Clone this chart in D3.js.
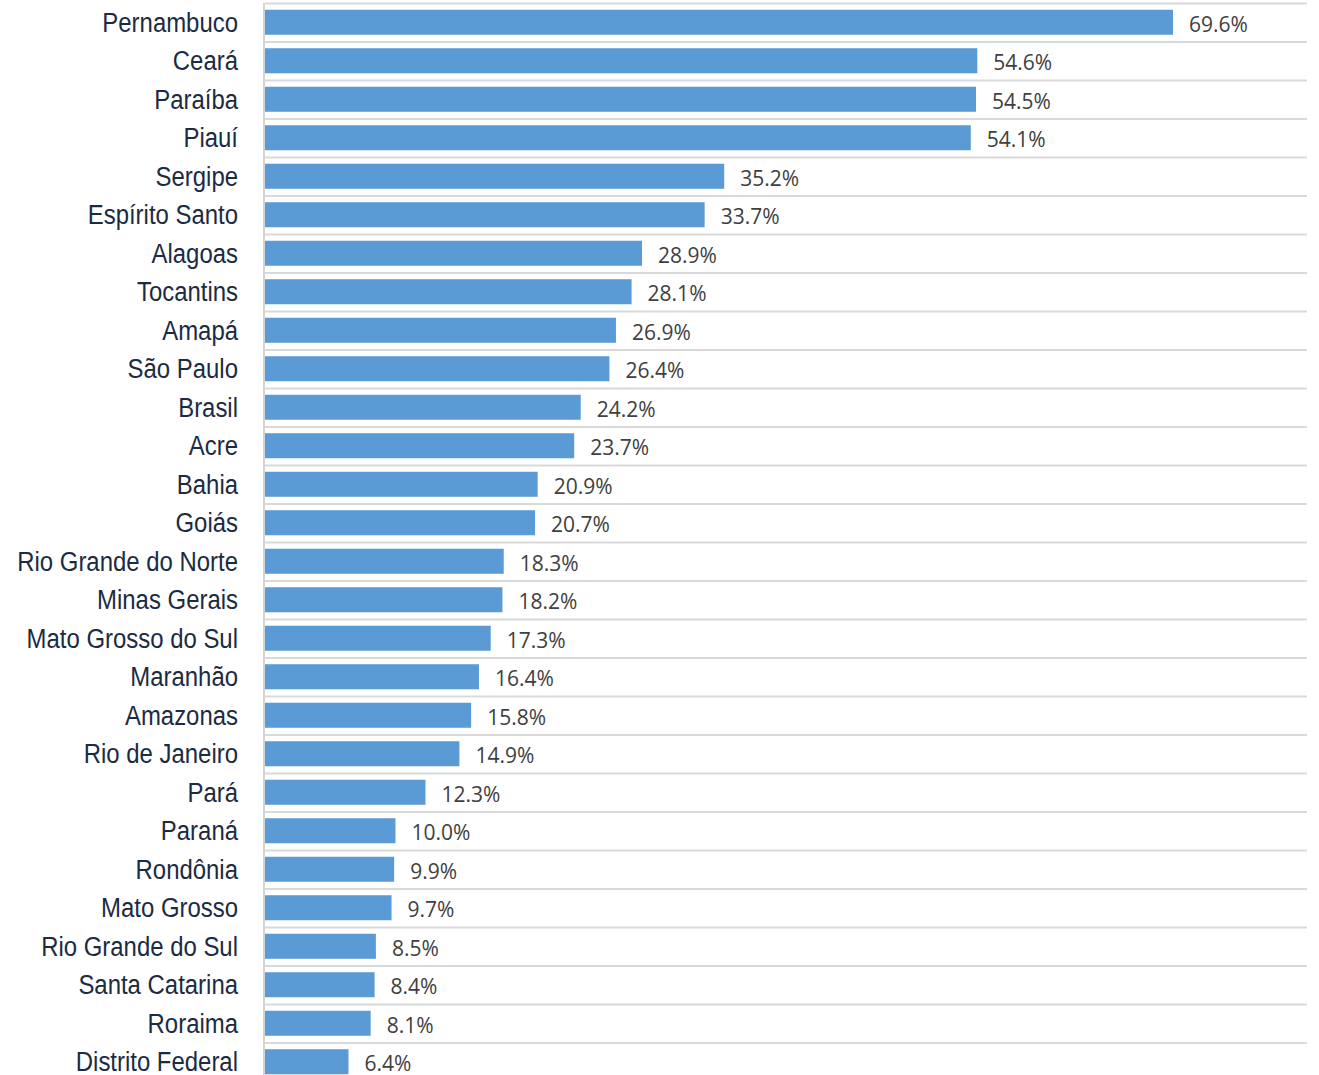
<!DOCTYPE html>
<html>
<head>
<meta charset="utf-8">
<script src="https://cdn.jsdelivr.net/npm/d3@7"></script>
<style>
  html, body { margin: 0; padding: 0; background: #ffffff; }
  svg { display: block; }
</style>
</head>
<body>
<svg id="chart" width="1319" height="1075"></svg>
<script>
// States ordered from highest to lowest share
const states = [
  "Pernambuco", "Ceará", "Paraíba", "Piauí", "Sergipe", "Espírito Santo",
  "Alagoas", "Tocantins", "Amapá", "São Paulo", "Brasil", "Acre", "Bahia",
  "Goiás", "Rio Grande do Norte", "Minas Gerais", "Mato Grosso do Sul",
  "Maranhão", "Amazonas", "Rio de Janeiro", "Pará", "Paraná", "Rondônia",
  "Mato Grosso", "Rio Grande do Sul", "Santa Catarina", "Roraima",
  "Distrito Federal"
];
const shares = [
  69.6, 54.6, 54.5, 54.1, 35.2, 33.7, 28.9, 28.1, 26.9, 26.4, 24.2, 23.7,
  20.9, 20.7, 18.3, 18.2, 17.3, 16.4, 15.8, 14.9, 12.3, 10.0, 9.9, 9.7,
  8.5, 8.4, 8.1, 6.4
];

const svg = d3.select("#chart");
const axisX = 264;
const plotRight = 1307;
const plotTop = 3;
const step = 38.5;

// one band per row (for separators) and a padded band for the bars
const rows = d3.scaleBand()
  .domain(states)
  .range([plotTop, plotTop + step * states.length])
  .padding(0);

const bars = d3.scaleBand()
  .domain(states)
  .range([plotTop, plotTop + step * states.length])
  .paddingInner(0.35)
  .paddingOuter(0.175);

const x = d3.scaleLinear()
  .domain([0, 69.6])
  .range([axisX + 1, 1173]);

const data = states.map((s, i) => ({ state: s, value: shares[i] }));
const mid = d => bars(d.state) + bars.bandwidth() / 2;

// horizontal separators between rows
svg.append("g")
  .selectAll("line")
  .data(states)
  .join("line")
  .attr("x1", axisX + 1)
  .attr("x2", plotRight)
  .attr("y1", d => rows(d) + 0.5)
  .attr("y2", d => rows(d) + 0.5)
  .attr("stroke", "#d9d9d9")
  .attr("stroke-width", 2);

// bars
svg.append("g")
  .selectAll("rect")
  .data(data)
  .join("rect")
  .attr("x", x(0))
  .attr("y", d => bars(d.state))
  .attr("width", d => x(d.value) - x(0))
  .attr("height", bars.bandwidth())
  .attr("fill", "#5b9bd5");

// category axis line
svg.append("line")
  .attr("x1", axisX)
  .attr("x2", axisX)
  .attr("y1", plotTop)
  .attr("y2", 1075)
  .attr("stroke", "#d4d4d4")
  .attr("stroke-width", 2);

// state names (condensed sans)
svg.append("g")
  .selectAll("text")
  .data(data)
  .join("text")
  .attr("transform", d => `translate(238,${mid(d) + 9.5}) scale(0.855,1)`)
  .attr("text-anchor", "end")
  .attr("font-family", "'Liberation Sans', Arial, sans-serif")
  .attr("font-size", 28)
  .attr("fill", "#1c2b42")
  .text(d => d.state);

// value labels
svg.append("g")
  .selectAll("text")
  .data(data)
  .join("text")
  .attr("transform", d => `translate(${x(d.value) + 16},${mid(d) + 9.3})`)
  .attr("font-family", "'Open Sans', sans-serif")
  .attr("font-size", 21)
  .attr("fill", "#404040")
  .text(d => d.value.toFixed(1) + "%");
</script>
</body>
</html>
